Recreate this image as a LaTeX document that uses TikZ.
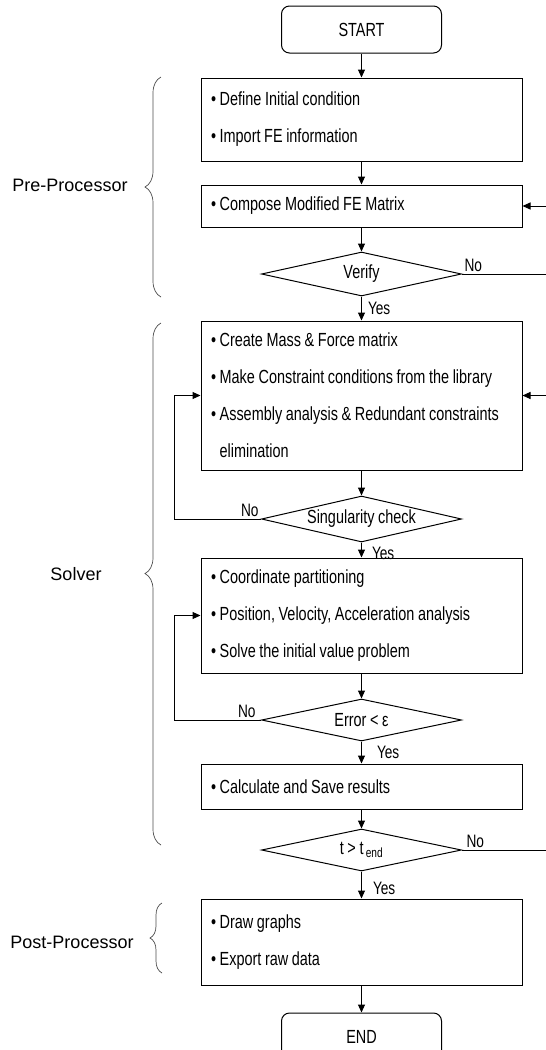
\documentclass[tikz,border=0pt]{standalone}
\usepackage{fontspec}
\setmainfont{Liberation Sans}[FakeStretch=0.76, WordSpace=0.9]
\newfontfamily\sidefont{Liberation Sans}
\usetikzlibrary{shapes.geometric, arrows.meta, decorations.pathreplacing}

\begin{document}
\begin{tikzpicture}[x=1pt, y=-1pt,
		every node/.style={font=\fontsize{19}{37}\selectfont},
		box/.style={draw, line width=1pt, rectangle, text width=301pt, inner xsep=10pt, inner ysep=0pt, align=flush left},
		terminal/.style={draw, line width=1pt, rectangle, rounded corners=8pt, minimum width=160pt, minimum height=47pt, inner sep=0pt},
		decision/.style={draw, line width=1pt, diamond, aspect=4.5, inner sep=0pt, minimum width=200pt},
		flow/.style={draw, line width=1pt, -{Triangle[length=8pt, width=7pt]}},
		tag/.style={font=\fontsize{18}{20}\selectfont, inner sep=2pt},
		sidebrace/.style={decorate, decoration={brace, amplitude=#1}, line width=0.7pt, draw=black!70},
		sidelabel/.style={font=\sidefont\fontsize{18}{20}\selectfont}]
		\useasboundingbox (0,0) rectangle (546,1050);
		\clip (0,0) rectangle (546,1050);

		\node[terminal] (start) at (361.5, 29.5) {START};
		\node[box, minimum height=83pt] (init) at (361.5, 119.5) {•\ Define Initial condition\\•\ Import FE information};
		\node[box, minimum height=42pt] (compose) at (361.5, 206) {•\ Compose Modified FE Matrix};
		\node[decision, minimum height=44pt] (verify) at (361.5, 274) {Verify};
		\node[box, minimum height=149pt] (create) at (361.5, 395.5) {•\ Create Mass \& Force matrix\\•\ Make Constraint conditions from the library\\•\ Assembly analysis \& Redundant constraints\\\phantom{•}\ elimination};
		\node[decision, minimum height=46pt] (sing) at (361.5, 519) {Singularity check};
		\node[box, minimum height=115pt] (coord) at (361.5, 615.5) {•\ Coordinate partitioning\\•\ Position, Velocity, Acceleration analysis\\•\ Solve the initial value problem};
		\node[decision, minimum height=42pt] (err) at (361.5, 720) {Error < ε};
		\node[box, minimum height=45pt] (calc) at (361.5, 786.5) {•\ Calculate and Save results};
		\node[decision, minimum height=42pt] (tend) at (361.5, 850) {t > t\textsubscript{\,end}};
		\node[box, minimum height=86pt] (draw) at (361.5, 942) {•\ Draw graphs\\•\ Export raw data};
		\node[terminal] (end) at (361.5, 1036.5) {END};

		\draw[flow] (start) -- (init);
		\draw[flow] (init) -- (compose);
		\draw[flow] (compose) -- (verify);
		\draw[flow] (verify) -- node[tag, right, xshift=4pt] {Yes} (create);
		\draw[flow] (create) -- (sing);
		\draw[flow] (sing) -- node[tag, right, xshift=8pt, yshift=-3pt] {Yes} (coord);
		\draw[flow] (coord) -- (err);
		\draw[flow] (err) -- node[tag, right, xshift=13pt] {Yes} (calc);
		\draw[flow] (calc) -- (tend);
		\draw[flow] (tend) -- node[tag, right, xshift=9pt, yshift=-3pt] {Yes} (draw);
		\draw[flow] (draw) -- (end);

		\draw[flow] (verify.east) node[tag, anchor=south west] {No} -- ++(87,0) |- (compose.east);
		\draw[flow] (tend.east) node[tag, anchor=south west, xshift=2pt] {No} -- ++(87,0) |- (create.east);
		\draw[flow] (sing.west) node[tag, anchor=south east] {No} -- ++(-87,0) |- (create.west);
		\draw[flow] (err.west) node[tag, anchor=south east, xshift=-3pt] {No} -- ++(-87,0) |- (coord.west);

		\draw[sidebrace=16pt] (161,297) -- (161,77);
		\draw[sidebrace=16pt, decoration={aspect=0.52}] (161,845) -- (161,323);
		\draw[sidebrace=12pt] (162,973) -- (162,903);

		\node[sidelabel] (pre) at (70,185) {Pre-Processor};
		\node[sidelabel] (solver) at (76,574) {Solver};
		\node[sidelabel] (post) at (72,942) {Post-Processor};
	\end{tikzpicture}
\end{document}
